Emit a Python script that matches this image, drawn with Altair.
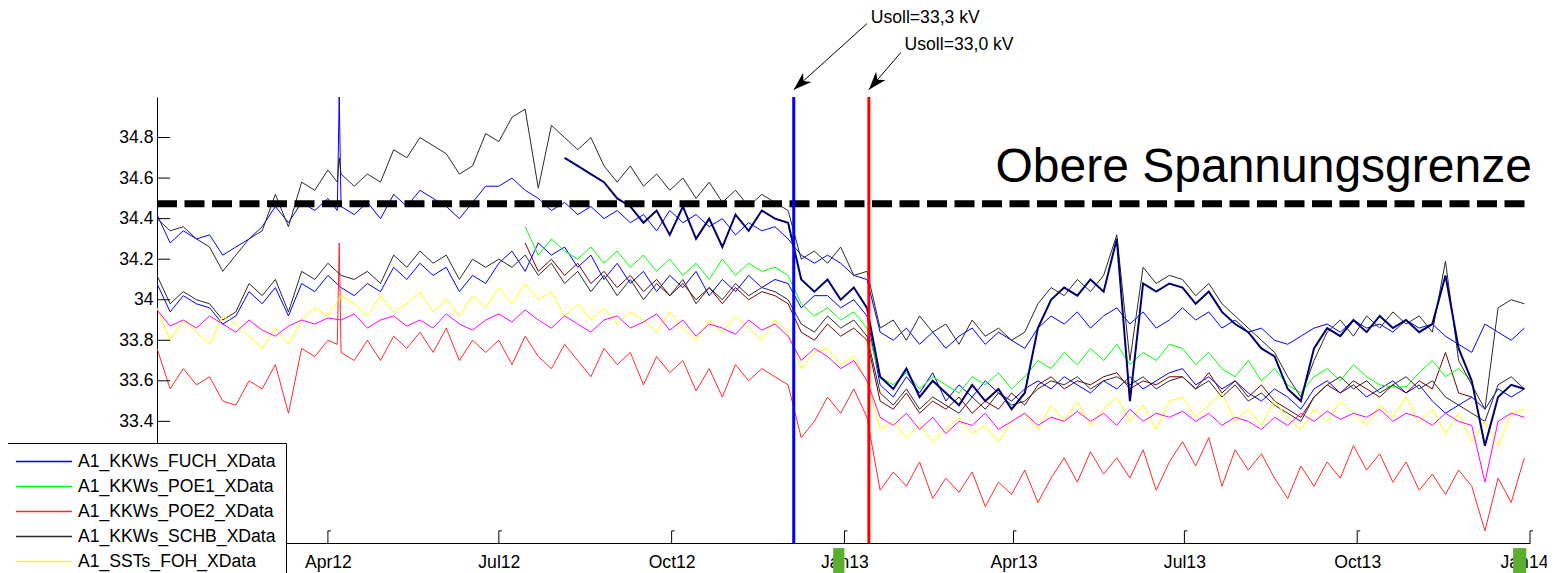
import altair as alt
import pandas as pd

# ---------------- data (weekly samples starting 2012-01-01) ----------------
first_week = "2012-01-01"
n_weeks = 105

fuch = [34.42, 34.28, 34.34, 34.30, 34.32, 34.22, 34.26, 34.30, 34.36, 34.46, 34.38, 34.48, 34.44, 34.50, 34.46, 34.42, 34.48, 34.40, 34.52, 34.46, 34.54, 34.50, 34.46, 34.40, 34.48, 34.56,
        34.56, 34.60, 34.54, 34.50, 34.44, 34.48, 34.42, 34.46, 34.40, 34.44, 34.38, 34.42, 34.34, 34.44, 34.38, 34.42, 34.36, 34.40, 34.32, 34.38, 34.34, 34.36, 34.30, 34.22, 34.18,
        34.22, 34.18, 34.12, 34.10,
        33.84, 33.80, 33.86, 33.78, 33.84, 33.76, 33.82, 33.86, 33.78, 33.84, 33.80, 33.76, 33.86, 33.92, 33.88, 33.94, 33.86, 33.92, 33.96, 33.88, 33.94, 33.86, 33.90,
        33.96, 33.90, 33.94, 33.86, 33.90, 33.84, 33.86, 33.80, 33.78, 33.82, 33.86, 33.88, 33.84, 33.90, 33.86, 33.88, 33.84, 33.90, 33.86, 33.88, 33.82, 33.78, 33.74, 33.88, 33.84, 33.80, 33.86]

poe1_start = 28
poe1 = [34.36, 34.22, 34.30, 34.24, 34.20, 34.26, 34.18, 34.24, 34.16, 34.22, 34.14, 34.20, 34.12, 34.18, 34.10, 34.20, 34.12, 34.18, 34.14, 34.16, 34.12, 33.98, 33.92,
        33.96, 33.90, 33.94, 33.86, 33.62, 33.58, 33.64, 33.56, 33.62, 33.58, 33.54, 33.62, 33.58, 33.64, 33.56, 33.62, 33.70, 33.66, 33.74, 33.68, 33.76, 33.70, 33.78, 33.68, 33.74, 33.70, 33.78,
        33.76, 33.68, 33.74, 33.66, 33.62, 33.70, 33.60, 33.66, 33.58, 33.54, 33.62, 33.66, 33.60, 33.68, 33.62, 33.58, 33.57, 33.57, 33.64, 33.70, 33.62, 33.66, 33.60]

poe2 = [33.76, 33.56, 33.66, 33.58, 33.62, 33.50, 33.48, 33.60, 33.56, 33.68, 33.44, 33.76, 33.72, 33.80, 33.74, 33.70, 33.80, 33.70, 33.82, 33.76, 33.84, 33.74, 33.86, 33.70, 33.80, 33.74,
        33.80, 33.68, 33.82, 33.72, 33.66, 33.78, 33.70, 33.62, 33.76, 33.68, 33.74, 33.58, 33.72, 33.64, 33.70, 33.55, 33.66, 33.52, 33.68, 33.60, 33.66, 33.62, 33.58, 33.32, 33.40,
        33.52, 33.44, 33.56, 33.42, 33.06, 33.15, 33.08, 33.20, 33.02, 33.12, 33.05, 33.15, 32.98, 33.10, 33.04, 33.16, 33.00, 33.12, 33.22, 33.10, 33.25, 33.14, 33.22, 33.12, 33.26, 33.06, 33.20,
        33.30, 33.18, 33.32, 33.08, 33.26, 33.16, 33.24, 33.12, 33.02, 33.18, 33.08, 33.20, 33.12, 33.28, 33.16, 33.24, 33.10, 33.20, 33.06, 33.14, 33.04, 33.16, 33.08, 32.86, 33.12, 33.00, 33.22]

schb = [34.40, 34.34, 34.36, 34.30, 34.26, 34.14, 34.22, 34.30, 34.34, 34.52, 34.36, 34.58, 34.54, 34.64, 34.62, 34.56, 34.62, 34.58, 34.74, 34.70, 34.80, 34.76, 34.72, 34.62, 34.66, 34.82,
        34.78, 34.90, 34.94, 34.55, 34.86, 34.80, 34.74, 34.80, 34.66, 34.58, 34.66, 34.56, 34.62, 34.54, 34.60, 34.50, 34.58, 34.48, 34.54, 34.46, 34.52, 34.48, 34.44, 34.20, 34.24,
        34.18, 34.26, 34.12, 34.14, 33.86, 33.90, 33.80, 33.92, 33.84, 33.88, 33.78, 33.90, 33.82, 33.86, 33.80, 33.84, 33.98, 34.06, 34.02, 34.10, 34.04, 34.12, 34.32, 33.70, 34.16, 34.08, 34.12,
        34.10, 34.02, 34.08, 33.98, 33.92, 33.86, 33.80, 33.74, 33.62, 33.52, 33.70, 33.84, 33.90, 33.82, 33.92, 33.86, 33.94, 33.88, 33.92, 33.84, 34.19, 33.70, 33.58, 33.46, 33.96, 34.00, 33.98]

foh = [33.96, 33.80, 33.90, 33.84, 33.78, 33.92, 33.88, 33.82, 33.76, 33.86, 33.78, 33.90, 33.96, 33.92, 34.02, 33.98, 33.92, 34.02, 33.94, 33.98, 34.04, 33.94, 34.00, 33.92, 34.02, 33.96,
       34.06, 33.98, 34.08, 34.00, 34.04, 33.92, 33.98, 33.90, 33.96, 33.88, 33.94, 33.90, 33.84, 33.94, 33.86, 33.80, 33.90, 33.84, 33.92, 33.86, 33.80, 33.90, 33.84, 33.66, 33.74,
       33.76, 33.68, 33.72, 33.60, 33.36, 33.40, 33.32, 33.38, 33.30, 33.36, 33.42, 33.34, 33.38, 33.30, 33.40, 33.44, 33.36, 33.48, 33.40, 33.50, 33.38, 33.46, 33.52, 33.40, 33.48, 33.36, 33.50,
       33.52, 33.42, 33.48, 33.54, 33.40, 33.46, 33.38, 33.50, 33.42, 33.36, 33.46, 33.40, 33.50, 33.44, 33.38, 33.48, 33.42, 33.52, 33.40, 33.46, 33.34, 33.44, 33.30, 33.40, 33.28, 33.44, 33.46]

mag = [33.95, 33.87, 33.90, 33.86, 33.92, 33.88, 33.84, 33.90, 33.85, 33.82, 33.87, 33.90, 33.88, 33.91, 33.90, 33.93, 33.86, 33.90, 33.92, 33.87, 33.90, 33.86, 33.93, 33.88, 33.85, 33.90,
       33.93, 33.89, 33.95, 33.90, 33.86, 33.92, 33.88, 33.84, 33.90, 33.92, 33.86, 33.89, 33.93, 33.85, 33.90, 33.82, 33.88, 33.86, 33.83, 33.90, 33.85, 33.88, 33.82, 33.70, 33.76,
       33.72, 33.66, 33.70, 33.60, 33.42, 33.38, 33.44, 33.36, 33.42, 33.34, 33.40, 33.38, 33.44, 33.36, 33.40, 33.44, 33.38, 33.42, 33.40, 33.45, 33.40, 33.44, 33.38, 33.46, 33.40, 33.44, 33.42,
       33.45, 33.40, 33.44, 33.38, 33.42, 33.40, 33.36, 33.42, 33.38, 33.44, 33.40, 33.45, 33.41, 33.44, 33.42, 33.46, 33.40, 33.44, 33.42, 33.38, 33.44, 33.40, 33.38, 33.10, 33.40, 33.44, 33.42]

fuch_low = [34.08, 33.94, 34.02, 33.98, 33.96, 33.88, 33.92, 34.04, 33.98, 34.06, 33.92, 34.08, 34.04, 34.12, 34.06, 34.02, 34.08, 34.04, 34.16, 34.10, 34.18, 34.12, 34.16, 34.04, 34.12, 34.08,
            34.18, 34.24, 34.14, 34.28, 34.22, 34.26, 34.16, 34.22, 34.10, 34.18, 34.08, 34.14, 34.04, 34.12, 34.06, 34.14, 34.02, 34.10, 34.04, 34.12, 34.06, 34.10, 34.08, 33.96, 34.02,
            34.02, 33.96, 34.00, 33.92, 33.58, 33.52, 33.62, 33.54, 33.64, 33.50, 33.58, 33.52, 33.60, 33.54, 33.50, 33.56, 33.60, 33.56, 33.62, 33.58, 33.54, 33.60, 33.56, 33.62, 33.56, 33.60, 33.64,
            33.66, 33.58, 33.62, 33.56, 33.60, 33.54, 33.50, 33.56, 33.52, 33.46, 33.56, 33.60, 33.54, 33.58, 33.52, 33.56, 33.60, 33.54, 33.58, 33.50, 33.44, 33.48, 33.52, 33.46, 33.56, 33.52, 33.56]

schb_low = [34.12, 33.98, 34.04, 34.00, 33.98, 33.90, 33.94, 34.08, 34.02, 34.10, 33.94, 34.14, 34.10, 34.18, 34.12, 34.10, 34.14, 34.08, 34.22, 34.16, 34.24, 34.18, 34.22, 34.10, 34.20, 34.16,
            34.20, 34.16, 34.22, 34.12, 34.18, 34.08, 34.14, 34.04, 34.12, 34.02, 34.10, 34.00, 34.08, 34.02, 34.10, 33.98, 34.06, 34.00, 34.08, 34.02, 34.06, 34.04, 34.00, 33.88, 33.84,
            33.92, 33.86, 33.90, 33.82, 33.54, 33.48, 33.56, 33.46, 33.52, 33.48, 33.44, 33.52, 33.46, 33.54, 33.48, 33.50, 33.56, 33.60, 33.58, 33.62, 33.56, 33.60, 33.62, 33.58, 33.62, 33.56, 33.60,
            33.62, 33.56, 33.60, 33.52, 33.58, 33.50, 33.54, 33.48, 33.44, 33.40, 33.52, 33.58, 33.62, 33.56, 33.60, 33.54, 33.58, 33.62, 33.56, 33.60, 33.52, 33.48, 33.44, 33.40, 33.58, 33.62, 33.56]

poe2_dark_start = 28
poe2_dark = [34.28, 34.14, 34.20, 34.12, 34.18, 34.08, 34.14, 34.06, 34.12, 34.04, 34.10, 34.02, 34.08, 34.00, 34.06, 33.98, 34.06, 34.00, 34.04, 34.02, 33.98, 33.84, 33.80,
             33.88, 33.82, 33.86, 33.80, 33.50, 33.46, 33.54, 33.44, 33.50, 33.46, 33.52, 33.44, 33.50, 33.46, 33.54, 33.48, 33.58, 33.62, 33.56, 33.60, 33.58, 33.62, 33.64, 33.56, 33.60, 33.58, 33.62,
             33.62, 33.56, 33.64, 33.54, 33.60, 33.52, 33.58, 33.50, 33.46, 33.42, 33.52, 33.58, 33.54, 33.60, 33.56, 33.52, 33.58, 33.54, 33.60, 33.56, 33.74, 33.54, 33.52]

navy_start = 31
navy = [34.70, 34.66, 34.62, 34.58, 34.50, 34.46, 34.38, 34.44, 34.32, 34.46, 34.30, 34.40, 34.26, 34.42, 34.34, 34.44, 34.40, 34.38, 34.10, 34.04,
        34.10, 34.00, 34.06, 33.96, 33.62, 33.56, 33.66, 33.52, 33.60, 33.54, 33.48, 33.58, 33.50, 33.56, 33.46, 33.54, 33.86, 34.00, 34.06, 34.02, 34.10, 34.04, 34.30, 33.50, 34.08, 34.04, 34.08,
        34.06, 33.98, 34.04, 33.94, 33.88, 33.84, 33.76, 33.72, 33.56, 33.50, 33.76, 33.86, 33.82, 33.90, 33.84, 33.92, 33.86, 33.90, 33.84, 33.88, 34.12, 33.76, 33.60, 33.28, 33.52, 33.58, 33.56]

# narrow spike on 2012-04-07 (pre-spike day, spike day)
spike_dates = ["2012-04-06", "2012-04-07"]
spike_fuch = [34.44, 35.00]
spike_schb = [34.58, 34.70]
spike_poe2 = [33.78, 34.28]

# name, start week, values, colour
series = [
    ("A1_KKWs_FUCH_XData", 0, fuch, "#0000ff"),
    ("A1_KKWs_POE1_XData", poe1_start, poe1, "#00ff00"),
    ("A1_KKWs_POE2_XData", 0, poe2, "#ff2a2a"),
    ("A1_KKWs_SCHB_XData", 0, schb, "#2a2a2a"),
    ("A1_SSTs_FOH_XData", 0, foh, "#ffff00"),
    ("A1_SSTs_GOE_XData", 0, mag, "#ff00ff"),
    ("A1_KKWs_FU2_XData", 0, fuch_low, "#0000ff"),
    ("A1_KKWs_SC2_XData", 0, schb_low, "#2a2a2a"),
    ("A1_KKWs_PO3_XData", poe2_dark_start, poe2_dark, "#7a0000"),
    ("A1_KKWs_HAU_XData", navy_start, navy, "#00006e"),
]
legend_shown = 5          # entries visible in the (cropped) legend box
thick_series = ["A1_KKWs_HAU_XData"]
spikes = {"A1_KKWs_FUCH_XData": spike_fuch, "A1_KKWs_SCHB_XData": spike_schb, "A1_KKWs_POE2_XData": spike_poe2}

names = [s[0] for s in series]
colors = [s[3] for s in series]

week_dates = pd.date_range(first_week, periods=n_weeks, freq="7D")
rows = []
for name, start, vals, _ in series:
    for i, v in enumerate(vals):
        rows.append({"date": week_dates[start + i], "value": v, "series": name})
for name, vals in spikes.items():
    for d, v in zip(spike_dates, vals):
        rows.append({"date": pd.Timestamp(d), "value": v, "series": name})
df = pd.DataFrame(rows).sort_values(["series", "date"])
df_thin = df[~df["series"].isin(thick_series)]
df_thick = df[df["series"].isin(thick_series)]

# markers / annotations
switch_dates = ["2012-12-05", "2013-01-14"]
switch_colors = ["#0000ff", "#ff0000"]
limit_value = 34.474
limit_text = "Obere Spannungsgrenze"

ann_text = ["Usoll=33,3 kV", "Usoll=33,0 kV"]
ann_text_date = ["2013-01-15", "2013-02-02"]
ann_text_val = [35.364, 35.232]
arrow_from_date = ["2013-01-13", "2013-01-31"]
arrow_from_val = [35.362, 35.219]
arrow_to_date = ["2012-12-05", "2013-01-14"]
arrow_to_val = [35.036, 35.036]
arrow_angle = [227.9, 220.9]

ytick_vals = [33.4, 33.6, 33.8, 34.0, 34.2, 34.4, 34.6, 34.8]
xtick_dates = ["2012-04-01", "2012-07-01", "2012-10-01", "2013-01-01", "2013-04-01", "2013-07-01", "2013-10-01", "2014-01-01"]

green_x1 = ["2011-12-28", "2012-12-26", "2013-12-23"]
green_x2 = ["2012-01-01", "2013-01-01", "2013-12-30"]

FONT = "Liberation Sans"
FS = 17.6


def ts(s):
    return pd.Timestamp(s)


x_scale = alt.Scale(domain=[alt.DateTime(year=2012, month=1, date=1), alt.DateTime(year=2014, month=1, date=1)])
y_scale = alt.Scale(domain=[32.8, 35.0], nice=False, zero=False)
color_scale = alt.Scale(domain=names, range=colors)

x_axis = alt.Axis(values=[alt.DateTime(year=int(d[:4]), month=int(d[5:7]), date=1) for d in xtick_dates],
                  format="%b%y", title=None, ticks=False, tickSize=0, grid=False,
                  labelFontSize=FS, labelFont=FONT, labelColor="black", labelPadding=10,
                  labelOffset={"condition": {"test": "datum.label == 'Jan14'", "value": -6}, "value": 0},
                  labelFlush=False, labelOverlap=False, domainColor="black", domainWidth=1)
y_axis = alt.Axis(values=ytick_vals, format="~g", title=None, ticks=False, tickSize=0, grid=False,
                  labelFontSize=FS, labelFont=FONT, labelColor="black", labelPadding=4,
                  labelOverlap=False, labelFlush=False, domainColor="black", domainWidth=1)

legend = alt.Legend(title=None, orient="none", legendX=-152, legendY=346, values=names[:legend_shown],
                    direction="vertical", symbolType="stroke", symbolSize=3136,
                    symbolStrokeWidth=1.5, symbolOpacity=1, clipHeight=17, labelFontSize=FS,
                    labelFont=FONT, labelColor="black", labelOffset=5, labelLimit=0,
                    rowPadding=6, padding=10, strokeColor="black", fillColor="white",
                    cornerRadius=0)

lines = alt.Chart(df_thin).mark_line(clip=True, strokeWidth=1).encode(
    x=alt.X("date:T", scale=x_scale, axis=x_axis),
    y=alt.Y("value:Q", scale=y_scale, axis=y_axis),
    color=alt.Color("series:N", scale=color_scale, legend=legend),
)
lines_thick = alt.Chart(df_thick).mark_line(clip=True, strokeWidth=2).encode(
    x=alt.X("date:T", scale=x_scale),
    y=alt.Y("value:Q", scale=y_scale),
    color=alt.Color("series:N", scale=color_scale, legend=legend),
)

vdf = pd.DataFrame({"date": [ts(d) for d in switch_dates], "c": switch_colors, "lo": 32.8, "hi": 35.0})
vlines = alt.Chart(vdf).mark_rule(strokeWidth=3).encode(
    x="date:T", y="lo:Q", y2="hi:Q", color=alt.Color("c:N", scale=None))

ldf = pd.DataFrame({"d1": [ts("2012-01-01")], "d2": [ts("2013-12-31")], "v": [limit_value]})
limit = alt.Chart(ldf).mark_rule(strokeDash=[20, 7.5], strokeWidth=7, color="black").encode(
    x="d1:T", x2="d2:T", y="v:Q")

tdf = pd.DataFrame({"d": [ts("2014-01-02")], "v": [34.582], "t": [limit_text]})
big_text = alt.Chart(tdf).mark_text(align="right", baseline="alphabetic", fontSize=48, font=FONT, color="black").encode(
    x="d:T", y="v:Q", text="t:N")

adf = pd.DataFrame({"d": [ts(d) for d in ann_text_date], "v": ann_text_val, "t": ann_text})
ann = alt.Chart(adf).mark_text(align="left", baseline="alphabetic", fontSize=FS, font=FONT, color="black").encode(
    x="d:T", y="v:Q", text="t:N")

rdf = pd.DataFrame({"d1": [ts(d) for d in arrow_from_date], "v1": arrow_from_val,
                    "d2": [ts(d) for d in arrow_to_date], "v2": arrow_to_val, "a": arrow_angle})
arrow_lines = alt.Chart(rdf).mark_rule(color="black", strokeWidth=1).encode(
    x="d1:T", y="v1:Q", x2="d2:T", y2="v2:Q")
arrow_heads = alt.Chart(rdf).mark_point(shape="M0,0 L0.55,1.6 L0,1.15 L-0.55,1.6 Z", size=520, filled=True,
                                        color="black", opacity=1).encode(
    x="d2:T", y="v2:Q", angle=alt.Angle("a:Q", scale=None))

ytdf = pd.DataFrame({"d1": ts("2012-01-01"), "d2": ts("2012-01-08"), "v": ytick_vals})
yticks = alt.Chart(ytdf).mark_rule(color="black", strokeWidth=1).encode(x="d1:T", x2="d2:T", y="v:Q")

xtdf = pd.DataFrame({"d": [ts(d) for d in xtick_dates], "d2": [ts(d) + pd.Timedelta(days=1.6) for d in xtick_dates],
                     "lo": 32.8, "hi": 32.86})
xticks = alt.Chart(xtdf).mark_rule(color="black", strokeWidth=1).encode(x="d:T", y="lo:Q", y2="hi:Q")
xhooks = alt.Chart(xtdf).mark_rule(color="black", strokeWidth=1).encode(x="d:T", x2="d2:T", y="hi:Q")

gdf = pd.DataFrame({"d1": [ts(d) for d in green_x1], "d2": [ts(d) for d in green_x2], "v1": 32.775, "v2": 32.55})
greens = alt.Chart(gdf).mark_rect(color="#5cae2e").encode(x="d1:T", x2="d2:T", y="v1:Q", y2="v2:Q")

chart = alt.layer(lines, lines_thick, yticks, xticks, xhooks, limit, vlines, big_text,
                  arrow_lines, arrow_heads, ann, greens).properties(
    width=1373, height=446,
    autosize=alt.AutoSizeParams(type="none"),
    padding={"left": 149, "top": 89, "right": 17, "bottom": 30},
    background="white",
).configure_view(stroke=None)

chart.save("out.html", embed_options={"renderer": "svg", "actions": False})
